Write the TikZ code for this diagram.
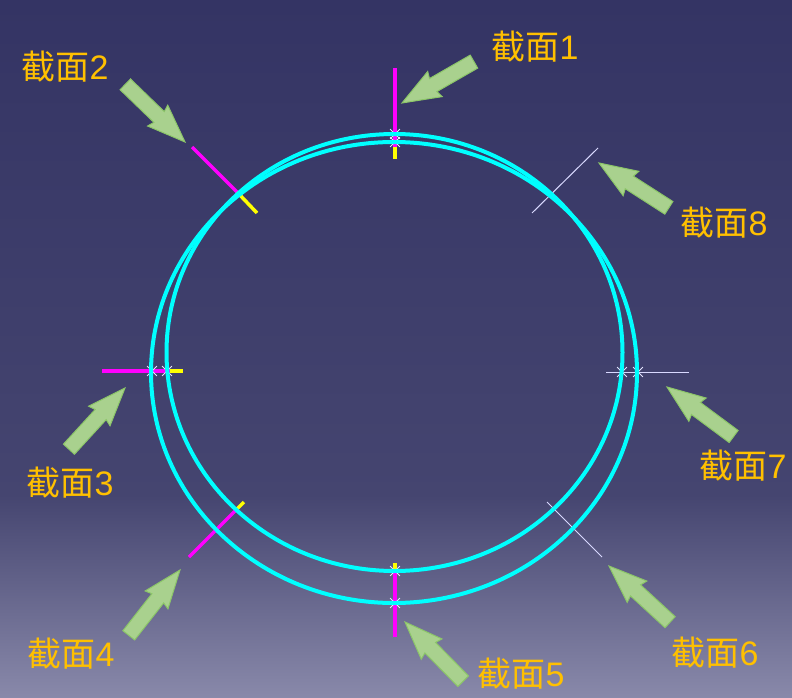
\documentclass[tikz,border=0pt]{standalone}
\usepackage{fontspec}
\setmainfont{Liberation Sans}
\newfontfamily\cjk{Noto Sans CJK SC}
\usepackage{xcolor}
\usetikzlibrary{shapes.misc}
\definecolor{sectionorange}{HTML}{FFC000}
\definecolor{arrowgreen}{HTML}{A9D18E}
\definecolor{arrowedge}{HTML}{8CC668}
\definecolor{ringcyan}{HTML}{00FFFF}
\definecolor{frontpink}{HTML}{FF00FF}
\definecolor{backyellow}{HTML}{FFFF00}
\definecolor{bgtop}{HTML}{343464}
\definecolor{bgmid}{HTML}{454570}
\definecolor{bgbottom}{HTML}{8989AA}
\begin{document}
\begin{tikzpicture}[
		x=1pt, y=1pt,
		caption/.style={
			align=center, text=sectionorange, font=\fontsize{34}{38}\selectfont, inner sep=0pt
		},
		front/.style={
			draw=frontpink, line width=3.5pt
		},
		back/.style={
			draw=backyellow, line width=3.5pt
		},
		thinline/.style={
			draw=white!85!blue, line width=1pt
		},
		ring/.style={
			draw=ringcyan, line width=4pt
		},
		xmark/.style={
			cross out, draw=white!90!blue, line width=.8pt, minimum size=9pt, inner sep=0pt
		},
		pointer/.pic={
			\draw [draw=arrowedge, fill=arrowgreen, line width=1pt, line join=miter]
				(0,0) -- (-38,14.5) -- (-36,7.5) -- (-83,7.5) -- (-83,-7.5) -- (-36,-7.5) -- (-38,-14.5) -- cycle;
		},
		]
		% Background
		\useasboundingbox (0,0) rectangle (792,-698);
		\fill [top color=bgtop, bottom color=bgmid] (0,0) rectangle (792,-496);
		\fill [top color=bgmid, bottom color=bgbottom] (0,-495) rectangle (792,-698);
		
		% Section lines
		\draw [front] (395,-68) -- (395,-147);
		\draw [back] (395,-147) -- (395,-159);
		\draw [front] (192,-147) -- (237,-192);
		\draw [back] (237,-192) -- (257,-213);
		\draw [front] (102,-371) -- (170,-371);
		\draw [back] (170,-371) -- (183,-371);
		\draw [front] (189,-557) -- (236,-510);
		\draw [back] (236,-510) -- (244,-502);
		\draw [front] (395,-637) -- (395,-572);
		\draw [back] (395,-572) -- (395,-563);
		\draw [thinline] (547,-502) -- (602,-557);
		\draw [thinline] (606,-372) -- (689,-372);
		\draw [thinline] (598,-148) -- (532,-213);
		
		% Crossing marks
		\node [xmark] (mark1a) at (395,-134) {};
		\node [xmark] (mark1b) at (395,-142) {};
		\node [xmark] (mark3a) at (152,-371) {};
		\node [xmark] (mark3b) at (167,-371) {};
		\node [xmark] (mark5a) at (395,-571) {};
		\node [xmark] (mark5b) at (395,-603) {};
		\node [xmark] (mark7a) at (622,-372) {};
		\node [xmark] (mark7b) at (638,-372) {};
		
		% Rings
		\draw [ring] (394.5,-352.5) ellipse [x radius=228, y radius=218.5];
		\draw [ring] (394,-372.5) ellipse [x radius=243, y radius=230.5];
		
		% Arrows
		\pic [rotate=209.9] (arrow1) at (402,-103) {pointer};
		\pic [rotate=-44] (arrow2) at (185,-142) {pointer};
		\pic [rotate=47.5] (arrow3) at (125,-388) {pointer};
		\pic [rotate=51.9] (arrow4) at (180,-570) {pointer};
		\pic [rotate=134.5] (arrow5) at (405,-622) {pointer};
		\pic [rotate=137.4] (arrow6) at (609,-566) {pointer};
		\pic [rotate=143.4] (arrow7) at (667,-387) {pointer};
		\pic [rotate=147.3] (arrow8) at (599,-163) {pointer};
		
		% Labels
		\node [caption] (label1) at (535,-47) {{\cjk 截面}1};
		\node [caption] (label2) at (65,-67) {{\cjk 截面}2};
		\node [caption] (label3) at (70,-483) {{\cjk 截面}3};
		\node [caption] (label4) at (71,-654) {{\cjk 截面}4};
		\node [caption] (label5) at (521,-674) {{\cjk 截面}5};
		\node [caption] (label6) at (715,-653) {{\cjk 截面}6};
		\node [caption] (label7) at (743,-466) {{\cjk 截面}7};
		\node [caption] (label8) at (724,-223) {{\cjk 截面}8};
	\end{tikzpicture}
\end{document}
